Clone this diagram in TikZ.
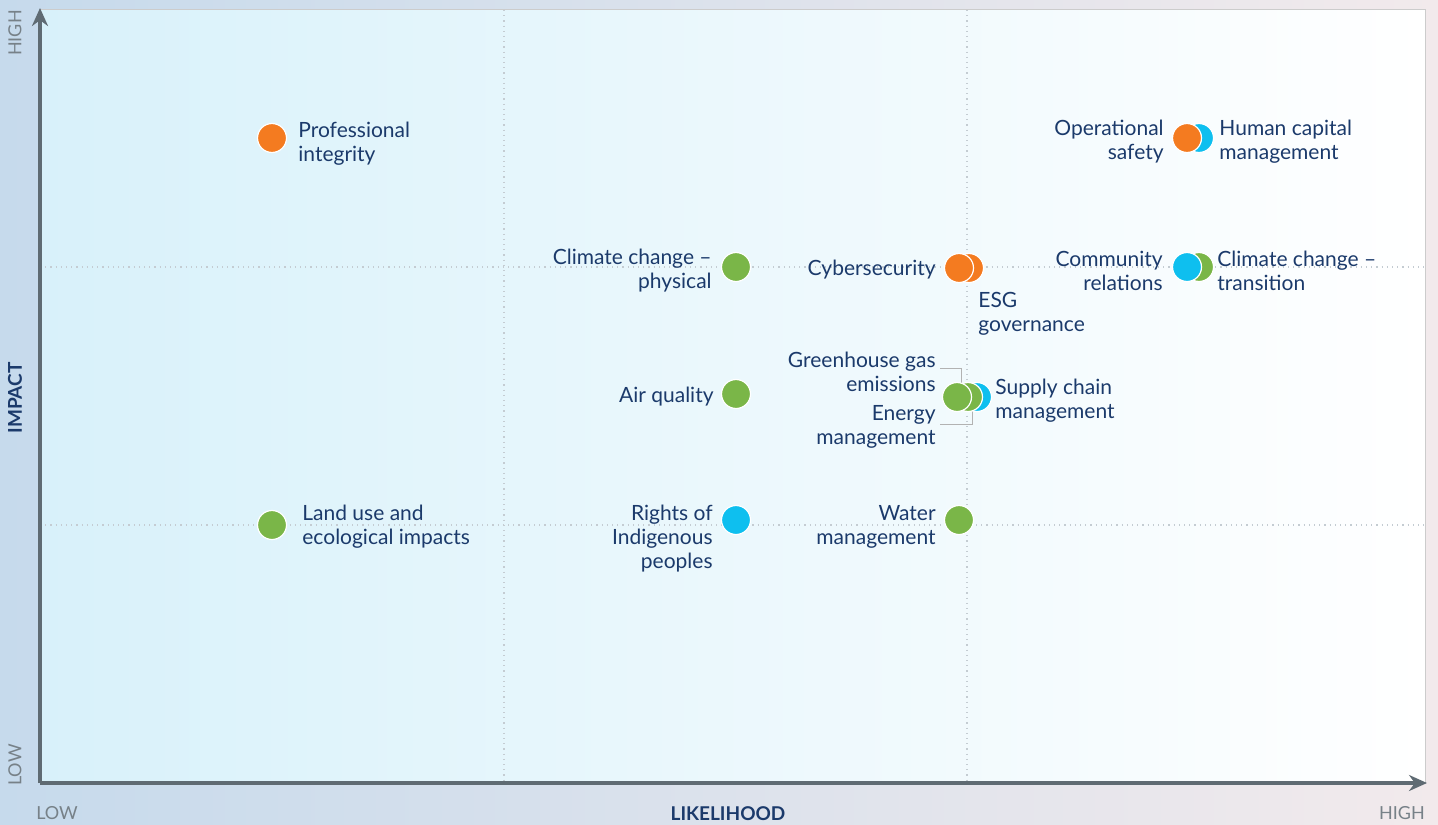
\documentclass[tikz,border=0pt]{standalone}
\usepackage{fontspec}
\setmainfont{Lato}
\usetikzlibrary{arrows.meta}
\definecolor{navy}{HTML}{1B3A6B}
\definecolor{axisgray}{HTML}{5F6B73}
\definecolor{dorange}{HTML}{F47B20}
\definecolor{dgreen}{HTML}{7AB648}
\definecolor{dcyan}{HTML}{0EBFEF}
\definecolor{gridgray}{HTML}{C4CCD2}
\definecolor{skyleft}{HTML}{C6DAEC}
\definecolor{skyright}{HTML}{F2EAEC}
\definecolor{plotleft}{HTML}{D8F1FA}
\tikzset{
  dot/.style={circle,minimum size=14.5pt,inner sep=0pt,draw=white,line width=0.6pt},
  lbl/.style={text=navy,font=\fontsize{10.5}{12}\selectfont,inner sep=0pt},
  lblL/.style={lbl,anchor=west,align=left},
  lblR/.style={lbl,anchor=east,align=right},
  axtxt/.style={text=axisgray!85,font=\fontsize{9}{10}\selectfont,inner sep=0pt},
  axtitle/.style={text=navy,font=\bfseries\fontsize{9.5}{11}\selectfont,inner sep=0pt},
  grid line/.style={gridgray,line width=0.6pt,dotted},
  axis line/.style={axisgray,line width=2pt,-{Stealth[length=9pt,width=8pt]}},
  bracket/.style={gray!60,line width=0.5pt}
}
\begin{document}
\begin{tikzpicture}[x=0.5pt,y=-0.5pt]
\useasboundingbox (0,0) rectangle (1438,824);
% background
\shade[left color=skyleft,right color=skyright] (0,0) rectangle (1438,824);
\shade[left color=plotleft,right color=white,draw=gray!40,line width=0.5pt] (40,10) rectangle (1425,783);
% grid
\draw[grid line] (504,10) -- (504,783);
\draw[grid line] (967,10) -- (967,783);
\draw[grid line] (40,267) -- (1425,267);
\draw[grid line] (40,525) -- (1425,525);
% axes
\coordinate (origin) at (40,783);
\coordinate (ytop) at (40,8);
\coordinate (xend) at (1427,783);
\draw[axis line] (origin) -- (ytop);
\draw[axis line] (origin) -- (xend);
% axis texts
\node[axtxt,rotate=90] (yhigh) at (15,33) {HIGH};
\node[axtxt,rotate=90] (ylow) at (15,765) {LOW};
\node[axtitle,rotate=90] (yt) at (15,398) {IMPACT};
\node[axtxt] (xlow) at (57,813) {LOW};
\node[axtxt] (xhigh) at (1402,813) {HIGH};
\node[axtitle] (xt) at (728,814) {LIKELIHOOD};
% brackets
\coordinate (b1a) at (940,368);
\coordinate (b1b) at (961,368);
\coordinate (b1c) at (961,384);
\coordinate (b2a) at (940,424);
\coordinate (b2b) at (972,424);
\coordinate (b2c) at (972,410);
\draw[bracket] (b1a) -- (b1b) -- (b1c);
\draw[bracket] (b2a) -- (b2b) -- (b2c);
% dots
\node[dot,fill=dorange] (pi) at (272,138) {};
\node[dot,fill=dcyan] (hc) at (1199,138) {};
\node[dot,fill=dorange] (os) at (1187,138) {};
\node[dot,fill=dgreen] (ccp) at (736,267) {};
\node[dot,fill=dorange] (esg) at (969,268) {};
\node[dot,fill=dorange] (cy) at (959,268) {};
\node[dot,fill=dgreen] (cct) at (1199,267) {};
\node[dot,fill=dcyan] (cr) at (1187,267) {};
\node[dot,fill=dgreen] (aq) at (736,394) {};
\node[dot,fill=dcyan] (sc) at (977,397) {};
\node[dot,fill=dgreen] (em) at (968,397) {};
\node[dot,fill=dgreen] (ghg) at (957,397) {};
\node[dot,fill=dgreen] (lu) at (272,525) {};
\node[dot,fill=dcyan] (rip) at (736,520) {};
\node[dot,fill=dgreen] (wm) at (959,520) {};
% labels
\node[lblL] (tpi) at (298,144) {Professional\\integrity};
\node[lblR] (tos) at (1164,142) {Operational\\safety};
\node[lblL] (thc) at (1219,142) {Human capital\\management};
\node[lblR] (tccp) at (712,271) {Climate change –\\physical};
\node[lblR] (tcy) at (936,270) {Cybersecurity};
\node[lblL] (tesg) at (978,314) {ESG\\governance};
\node[lblR] (tcr) at (1163,271) {Community\\relations};
\node[lblL] (tcct) at (1217,271) {Climate change –\\transition};
\node[lblR] (taq) at (714,397) {Air quality};
\node[lblR] (tghg) at (936,372) {Greenhouse gas\\emissions};
\node[lblR] (tem) at (936,427) {Energy\\management};
\node[lblL] (tsc) at (995,401) {Supply chain\\management};
\node[lblL] (tlu) at (302,527) {Land use and\\ecological impacts};
\node[lblR] (trip) at (713,539) {Rights of\\Indigenous\\peoples};
\node[lblR] (twm) at (936,527) {Water\\management};
\end{tikzpicture}
\end{document}
